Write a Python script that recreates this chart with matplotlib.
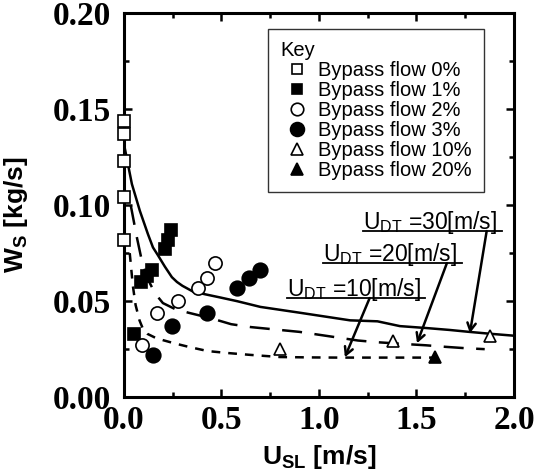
import matplotlib
matplotlib.use("Agg")
import matplotlib.pyplot as plt
from matplotlib.ticker import MultipleLocator, FormatStrFormatter

# ---------------- data ----------------
series_labels = ["Bypass flow 0%", "Bypass flow 1%", "Bypass flow 2%",
                 "Bypass flow 3%", "Bypass flow 10%", "Bypass flow 20%"]

bp0_x = [0.0, 0.0, 0.0, 0.0, 0.0]
bp0_y = [0.144, 0.137, 0.123, 0.104, 0.082]

bp1_x = [0.05, 0.09, 0.12, 0.145, 0.21, 0.226, 0.241]
bp1_y = [0.033, 0.060, 0.063, 0.066, 0.077, 0.082, 0.087]

bp2_x = [0.095, 0.17, 0.277, 0.38, 0.425, 0.467]
bp2_y = [0.027, 0.044, 0.050, 0.057, 0.062, 0.070]

bp3_x = [0.149, 0.246, 0.425, 0.58, 0.64, 0.70]
bp3_y = [0.022, 0.037, 0.044, 0.057, 0.062, 0.066]

bp10_x = [0.80, 1.38, 1.877]
bp10_y = [0.025, 0.029, 0.032]

bp20_x = [1.595]
bp20_y = [0.021]

# model curves (U_DT = 30, 20, 10 m/s)
c30_x = [0.0, 0.041, 0.082, 0.123, 0.149, 0.174, 0.21, 0.246, 0.272, 0.30, 0.354,
         0.42, 0.49, 0.58, 0.70, 0.80, 0.90, 1.03, 1.16, 1.30, 1.415, 1.55, 1.67, 1.77, 1.88, 2.0]
c30_y = [0.132, 0.111, 0.097, 0.085, 0.078, 0.074, 0.068, 0.0625, 0.060, 0.058, 0.055,
         0.0535, 0.052, 0.050, 0.047, 0.0455, 0.044, 0.042, 0.040, 0.0395, 0.037, 0.0360,
         0.035, 0.034, 0.033, 0.032]

c20_x = [0.035, 0.05, 0.067, 0.09, 0.12, 0.16, 0.2, 0.26, 0.33, 0.45, 0.55, 0.65,
         0.8, 0.9, 1.0, 1.1, 1.2, 1.3, 1.42, 1.55, 1.65, 1.75, 1.85]
c20_y = [0.100, 0.092, 0.083, 0.072, 0.062, 0.054, 0.049, 0.046, 0.044, 0.041, 0.038,
         0.0365, 0.035, 0.034, 0.0325, 0.031, 0.0295, 0.0286, 0.0278, 0.027, 0.0262,
         0.0255, 0.025]

c10_x = [0.03, 0.046, 0.06, 0.08, 0.10, 0.12, 0.16, 0.2, 0.26, 0.34, 0.43, 0.53, 0.65,
         0.8, 0.95, 1.1, 1.25, 1.4, 1.6]
c10_y = [0.075, 0.058, 0.048, 0.040, 0.035, 0.033, 0.031, 0.0297, 0.028, 0.026, 0.024,
         0.023, 0.022, 0.0209, 0.0207, 0.0206, 0.0206, 0.0206, 0.0206]

curve_labels = ["30", "20", "10"]
# annotation anchor positions (text left/underline y, arrow start x, arrow tip)
ann_text_xy = [(1.226, 0.0865), (1.02, 0.0698), (0.836, 0.0516)]
ann_line_end = [1.94, 1.733, 1.544]
ann_arrow_from_x = [1.86, 1.656, 1.26]
ann_arrow_to = [(1.774, 0.0333), (1.503, 0.0281), (1.133, 0.0208)]

x_ticks = [0.0, 0.5, 1.0, 1.5, 2.0]
y_ticks = [0.00, 0.05, 0.10, 0.15, 0.20]

# ---------------- figure ----------------
plt.rcParams['font.family'] = ['Liberation Sans', 'DejaVu Sans']
fig = plt.figure(figsize=(5.34, 4.70), dpi=100)
ax = fig.add_axes([0.232, 0.155, 0.7305, 0.817])

ax.set_xlim(0, 2.0)
ax.set_ylim(0, 0.20)

lw_curve = 1.8
ax.plot(c30_x, c30_y, color='black', lw=lw_curve, solid_capstyle='butt', zorder=2)
ax.plot(c20_x, c20_y, color='black', lw=lw_curve, dashes=(8, 5), zorder=2)
ax.plot(c10_x, c10_y, color='black', lw=lw_curve, dashes=(3.5, 3.2), zorder=2)

ms = 9
kw = dict(linestyle='none', markeredgecolor='black', markeredgewidth=1.2, zorder=3, clip_on=False)
ax.plot(bp0_x, bp0_y, marker='s', markerfacecolor='white', markersize=ms - 1, label=series_labels[0], **kw)
ax.plot(bp1_x, bp1_y, marker='s', markerfacecolor='black', markersize=ms - 1, label=series_labels[1], **kw)
ax.plot(bp2_x, bp2_y, marker='o', markerfacecolor='white', markersize=ms + 0.5, label=series_labels[2], **kw)
ax.plot(bp3_x, bp3_y, marker='o', markerfacecolor='black', markersize=ms + 1.5, label=series_labels[3], **kw)
ax.plot(bp10_x, bp10_y, marker='^', markerfacecolor='white', markersize=ms, label=series_labels[4], **kw)
ax.plot(bp20_x, bp20_y, marker='^', markerfacecolor='black', markersize=ms, label=series_labels[5], **kw)

# annotations
for lab, (tx, ty), lx, ax_from, tip in zip(curve_labels, ann_text_xy, ann_line_end,
                                           ann_arrow_from_x, ann_arrow_to):
    ax.text(tx, ty + 0.0012, r"U$_\mathregular{DT}$ =" + lab + "[m/s]", fontsize=16.5,
            ha='left', va='baseline', color='black', zorder=4)
    ax.plot([tx, lx], [ty, ty], color='black', lw=1.3, zorder=4)
    ax.annotate("", xy=tip, xytext=(ax_from, ty),
                arrowprops=dict(arrowstyle='->,head_length=0.55,head_width=0.3',
                                color='black', lw=1.8, shrinkA=0, shrinkB=0),
                zorder=4)

# axes styling
for sp in ax.spines.values():
    sp.set_linewidth(2.2)
ax.xaxis.set_major_locator(MultipleLocator(0.5))
ax.xaxis.set_minor_locator(MultipleLocator(0.25))
ax.yaxis.set_major_locator(MultipleLocator(0.05))
ax.yaxis.set_minor_locator(MultipleLocator(0.025))
ax.set_xticks(x_ticks)
ax.set_yticks(y_ticks)
ax.xaxis.set_major_formatter(FormatStrFormatter('%.1f'))
ax.yaxis.set_major_formatter(FormatStrFormatter('%.2f'))
ax.tick_params(which='both', direction='in', top=True, right=True, width=1.8)
ax.tick_params(which='major', length=6)
ax.tick_params(which='minor', length=3.5)
ax.tick_params(axis='x', which='major', pad=6)
ax.tick_params(axis='y', which='major', pad=9)
for t in ax.get_xticklabels() + ax.get_yticklabels():
    t.set_fontfamily('Liberation Serif')
    t.set_fontweight('bold')
    t.set_fontsize(24)

ax.set_xlabel(r"U$_\mathregular{SL}$ [m/s]", fontsize=19, fontweight='bold', labelpad=5)
ax.set_ylabel(r"W$_\mathregular{S}$ [kg/s]", fontsize=19, fontweight='bold')
ax.yaxis.set_label_coords(-0.241, 0.474)

leg = ax.legend(loc='upper left', bbox_to_anchor=(0.369, 0.958), borderaxespad=0,
                title="Key", fontsize=14.5, title_fontsize=14.5, frameon=True,
                fancybox=False, edgecolor='black', handlelength=1.7, handletextpad=0.2,
                labelspacing=0.05, borderpad=0.6, alignment='left',
                markerscale=0.95)
leg.get_frame().set_linewidth(1.0)

fig.savefig("out.png", dpi=100)
